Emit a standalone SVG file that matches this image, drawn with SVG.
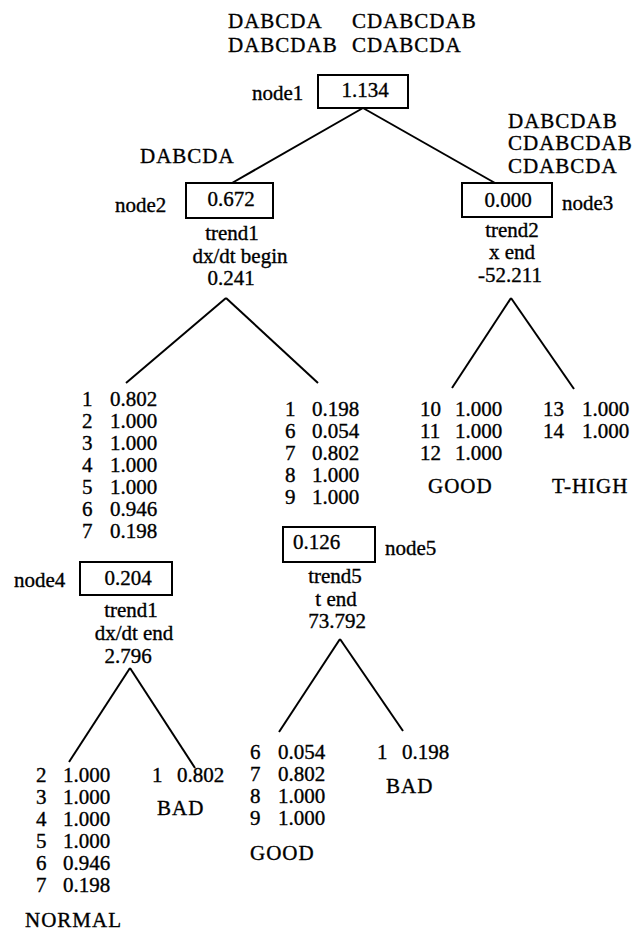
<svg xmlns="http://www.w3.org/2000/svg" width="634" height="931" viewBox="0 0 634 931" font-family="'Liberation Serif', 'DejaVu Serif', serif" font-size="21">
<style>
text{font-family:'Liberation Serif','DejaVu Serif',serif;font-size:21px;fill:#000;stroke:#000;stroke-width:0.35px}
.c{letter-spacing:1px}
.m{text-anchor:middle}
.box{fill:#fff;stroke:#000;stroke-width:2}
.edge{stroke:#000;stroke-width:2;fill:none}
</style>
<rect width="634" height="931" fill="#fff"/>
<g id="connectors">
<line class="edge" x1="363" y1="108" x2="232" y2="183"/>
<line class="edge" x1="363" y1="108" x2="495" y2="183"/>
<line class="edge" x1="226" y1="298" x2="126" y2="383"/>
<line class="edge" x1="226" y1="298" x2="318" y2="383"/>
<line class="edge" x1="511" y1="298" x2="452" y2="388"/>
<line class="edge" x1="511" y1="298" x2="574" y2="389"/>
<line class="edge" x1="130" y1="668" x2="69" y2="762"/>
<line class="edge" x1="130" y1="668" x2="195" y2="768"/>
<line class="edge" x1="340" y1="639" x2="279" y2="732"/>
<line class="edge" x1="340" y1="639" x2="403" y2="731"/>
</g>
<g id="node1">
<text class="c" x="228" y="28">DABCDA</text>
<text class="c" x="352" y="28">CDABCDAB</text>
<text class="c" x="228" y="52">DABCDAB</text>
<text class="c" x="352" y="52">CDABCDA</text>
<text x="252" y="100">node1</text>
<rect class="box" x="318" y="75" width="90" height="33"/>
<text class="m" x="365" y="97">1.134</text>
</g>
<g id="node2">
<text class="c" x="140" y="163">DABCDA</text>
<text x="115" y="212">node2</text>
<rect class="box" x="186" y="183" width="87" height="35"/>
<text class="m" x="231" y="206">0.672</text>
<text class="m" x="232" y="240">trend1</text>
<text class="m" x="240" y="263">dx/dt begin</text>
<text class="m" x="231" y="285">0.241</text>
</g>
<g id="node3">
<text class="c" x="508" y="128">DABCDAB</text>
<text class="c" x="508" y="150">CDABCDAB</text>
<text class="c" x="508" y="173">CDABCDA</text>
<rect class="box" x="462" y="183" width="90" height="34"/>
<text class="m" x="508" y="207">0.000</text>
<text x="562" y="210">node3</text>
<text class="m" x="512" y="237">trend2</text>
<text class="m" x="512" y="259">x end</text>
<text class="m" x="510" y="282">-52.211</text>
</g>
<g id="leaf-node3-good">
<text x="420" y="416">10</text><text x="455" y="416">1.000</text>
<text x="420" y="438">11</text><text x="455" y="438">1.000</text>
<text x="420" y="460">12</text><text x="455" y="460">1.000</text>
<text class="c" x="428" y="493">GOOD</text>
</g>
<g id="leaf-node3-thigh">
<text x="543" y="416">13</text><text x="582" y="416">1.000</text>
<text x="543" y="438">14</text><text x="582" y="438">1.000</text>
<text class="c" x="552" y="493">T-HIGH</text>
</g>
<g id="list-node4">
<text x="82" y="406">1</text><text x="110" y="406">0.802</text>
<text x="82" y="428">2</text><text x="110" y="428">1.000</text>
<text x="82" y="450">3</text><text x="110" y="450">1.000</text>
<text x="82" y="472">4</text><text x="110" y="472">1.000</text>
<text x="82" y="494">5</text><text x="110" y="494">1.000</text>
<text x="82" y="516">6</text><text x="110" y="516">0.946</text>
<text x="82" y="538">7</text><text x="110" y="538">0.198</text>
</g>
<g id="list-node5">
<text x="285" y="416">1</text><text x="312" y="416">0.198</text>
<text x="285" y="438">6</text><text x="312" y="438">0.054</text>
<text x="285" y="460">7</text><text x="312" y="460">0.802</text>
<text x="285" y="482">8</text><text x="312" y="482">1.000</text>
<text x="285" y="504">9</text><text x="312" y="504">1.000</text>
</g>
<g id="node4">
<text x="14" y="587">node4</text>
<rect class="box" x="80" y="562" width="92" height="33"/>
<text class="m" x="128" y="585">0.204</text>
<text class="m" x="131" y="617">trend1</text>
<text class="m" x="134" y="640">dx/dt end</text>
<text class="m" x="128" y="663">2.796</text>
</g>
<g id="leaf-node4-normal">
<text x="36" y="782">2</text><text x="63" y="782">1.000</text>
<text x="36" y="804">3</text><text x="63" y="804">1.000</text>
<text x="36" y="826">4</text><text x="63" y="826">1.000</text>
<text x="36" y="848">5</text><text x="63" y="848">1.000</text>
<text x="36" y="870">6</text><text x="63" y="870">0.946</text>
<text x="36" y="892">7</text><text x="63" y="892">0.198</text>
<text class="c" x="25" y="927">NORMAL</text>
</g>
<g id="leaf-node4-bad">
<text x="152" y="782">1</text><text x="177" y="782">0.802</text>
<text class="c" x="157" y="815">BAD</text>
</g>
<g id="node5">
<rect class="box" x="283" y="527" width="92" height="35"/>
<text x="293" y="549">0.126</text>
<text x="385" y="555">node5</text>
<text class="m" x="335" y="583">trend5</text>
<text class="m" x="336" y="606">t end</text>
<text class="m" x="337" y="628">73.792</text>
</g>
<g id="leaf-node5-good">
<text x="250" y="759">6</text><text x="278" y="759">0.054</text>
<text x="250" y="781">7</text><text x="278" y="781">0.802</text>
<text x="250" y="803">8</text><text x="278" y="803">1.000</text>
<text x="250" y="825">9</text><text x="278" y="825">1.000</text>
<text class="c" x="250" y="860">GOOD</text>
</g>
<g id="leaf-node5-bad">
<text x="377" y="759">1</text><text x="402" y="759">0.198</text>
<text class="c" x="386" y="793">BAD</text>
</g>
</svg>
